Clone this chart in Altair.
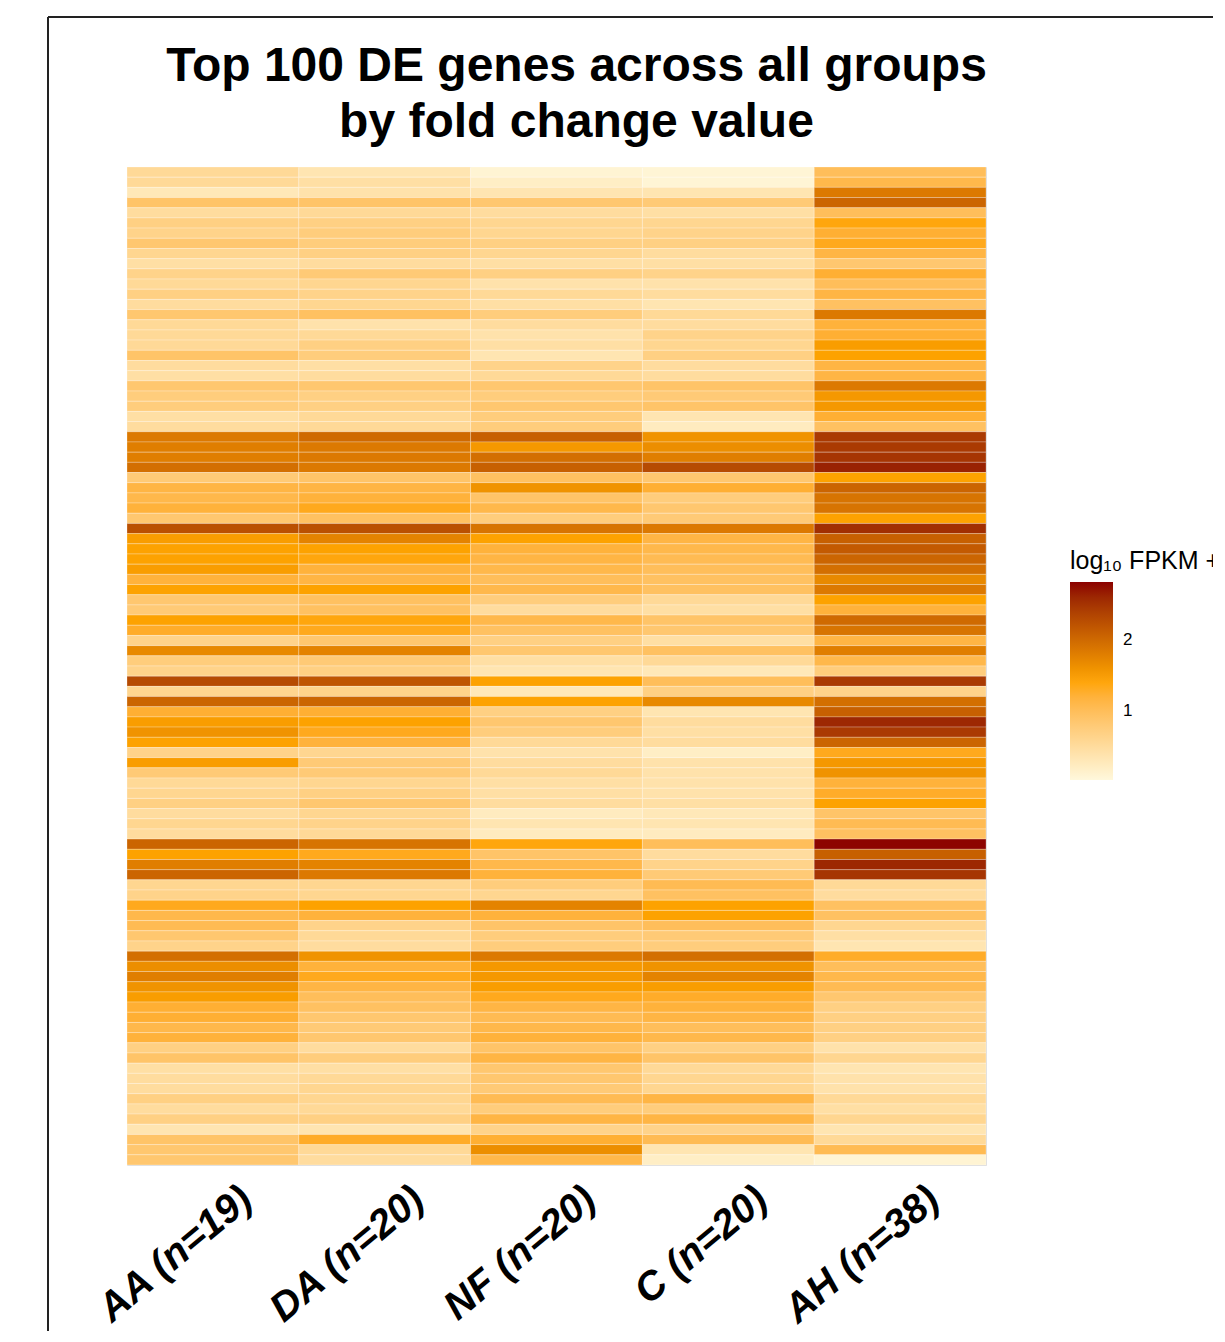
import altair as alt
import pandas as pd

groups = ["AA (n=19)", "DA (n=20)", "NF (n=20)", "C (n=20)", "AH (n=38)"]

AA = [.55, .55, .3, .9, .5, .7, .65, .85, .6, .45,
      .65, .55, .7, .5, .85, .55, .55, .55, .9, .5,
      .45, .85, .75, .75, .45, .5, 1.85, 1.8, 1.8, 1.95,
      .8, 1.15, 1.1, 1.2, .85, 2.25, 1.5, 1.45, 1.45, 1.5,
      1.2, 1.45, .85, .8, 1.45, 1.3, .65, 1.7, .75, .65,
      2.3, .6, 2.05, 1.25, 1.5, 1.6, 1.45, .65, 1.5, .8,
      .55, .6, .7, .5, .6, .5, 2.05, 1.45, 1.8, 2.05,
      .6, .65, 1.35, 1.1, 1.05, .85, .65, 1.95, 1.65, 1.8,
      1.6, 1.5, 1.25, 1.25, 1.1, 1.2, .7, .9, .45, .5,
      .5, .7, .5, .7, .35, .9, .85, .85]
DA = [.35, .45, .4, .9, .55, .7, .75, .75, .7, .5,
      .8, .6, .65, .6, .95, .4, .55, .7, .75, .45,
      .5, .85, .7, .7, .55, .55, 2.0, 1.85, 1.85, 1.85,
      .9, 1.15, 1.2, 1.35, .95, 2.25, 1.75, 1.45, 1.4, 1.2,
      1.15, 1.45, .95, .95, 1.4, 1.35, .85, 1.75, .8, .7,
      2.2, .65, 2.05, 1.25, 1.45, 1.35, 1.2, .6, .8, .8,
      .6, .7, .85, .6, .65, .55, 1.9, 1.35, 1.75, 1.85,
      .6, .6, 1.45, 1.2, .65, .55, .5, 1.6, 1.2, 1.35,
      1.15, 1.0, .95, .85, .8, .85, .5, .75, .45, .55,
      .6, .6, .55, .7, .35, 1.3, .55, .5]
NF = [.1, .2, .35, .85, .5, .6, .6, .7, .6, .45,
      .7, .4, .55, .45, .75, .5, .4, .45, .35, .65,
      .55, .85, .75, .85, .75, .75, 2.1, 1.55, 1.95, 2.1,
      .95, 1.6, .9, 1.1, .75, 1.9, 1.45, 1.2, 1.15, 1.1,
      1.0, 1.1, .75, .5, 1.1, .95, .7, .85, .45, .35,
      1.45, .3, 1.45, .7, .85, .75, .55, .4, .5, .55,
      .45, .45, .5, .25, .35, .25, 1.4, .9, 1.1, 1.2,
      .75, .6, 1.75, 1.2, .9, .75, .75, 1.85, 1.55, 1.55,
      1.5, 1.35, 1.15, 1.05, 1.1, 1.2, .9, 1.15, .85, .85,
      .8, 1.05, .75, 1.15, .65, 1.25, 1.65, 1.1]
C = [.08, .08, .35, .8, .45, .6, .65, .7, .5, .45,
     .65, .4, .5, .35, .55, .5, .65, .6, .7, .5,
     .5, .9, .8, .9, .35, .25, 1.6, 1.65, 1.8, 2.3,
     .85, 1.25, .75, .85, .8, 1.85, 1.15, 1.1, 1.05, 1.0,
     .95, .95, .55, .45, .9, .85, .45, .95, .55, .3,
     1.0, .7, 1.7, .35, .5, .45, .5, .2, .4, .4,
     .4, .4, .45, .3, .35, .25, 1.0, .5, .65, .8,
     1.05, .95, 1.45, 1.45, 1.0, .8, .75, 1.95, 1.6, 1.75,
     1.5, 1.3, 1.2, 1.15, 1.0, 1.1, .7, .9, .55, .6,
     .6, 1.15, .75, 1.15, .65, 1.05, .35, .2]
AH = [1.0, 1.1, 1.85, 2.05, 1.0, 1.4, 1.25, 1.35, 1.15, .85,
      1.25, 1.0, 1.15, .95, 1.85, 1.2, 1.25, 1.5, 1.45, 1.15,
      1.15, 1.85, 1.55, 1.55, 1.25, .95, 2.45, 2.45, 2.5, 2.65,
      1.45, 2.05, 1.9, 1.9, 1.45, 2.55, 2.1, 2.15, 2.05, 1.95,
      1.7, 1.85, 1.45, 1.2, 2.0, 1.9, 1.15, 1.8, 1.1, .75,
      2.45, .65, 1.95, 2.1, 2.6, 2.45, 2.05, 1.35, 1.55, 1.6,
      1.2, 1.3, 1.45, .9, 1.05, .95, 2.8, 2.1, 2.6, 2.5,
      .55, .5, .95, .95, .6, .45, .35, 1.3, 1.0, 1.1,
      1.05, .85, .7, .7, .7, .7, .4, .6, .35, .4,
      .4, .55, .45, .6, .35, .55, 1.05, .1]

records = []
for g, vals in zip(groups, [AA, DA, NF, C, AH]):
    for i, v in enumerate(vals):
        records.append({"group": g, "gene": i, "value": v})
df = pd.DataFrame(records)

FONT = "Liberation Sans"

heat = alt.Chart(df).mark_rect(stroke="white", strokeWidth=0.5, strokeOpacity=0.5).encode(
    x=alt.X("group:N", sort=groups,
            scale=alt.Scale(paddingInner=0, paddingOuter=0),
            axis=alt.Axis(title=None, labelAngle=-40, labelAlign="right",
                          labelBaseline="middle", labelFontSize=40, labelFont=FONT,
                          labelFontWeight="bold", labelFontStyle="italic",
                          labelColor="black", ticks=False, labelLimit=500,
                          domain=False, labelPadding=29, labelOffset=34)),
    y=alt.Y("gene:O", axis=None, scale=alt.Scale(paddingInner=0, paddingOuter=0)),
    color=alt.Color("value:Q",
                    scale=alt.Scale(domain=[0.03, 1.425, 2.82],
                                    range=["#FFF8DC", "#FFA500", "#8B0000"],
                                    interpolate="lab"),
                    legend=alt.Legend(title="log₁₀ FPKM + 1", orient="none",
                                      legendX=943, legendY=382, direction="vertical",
                                      gradientLength=198, gradientThickness=43,
                                      values=[1, 2], labelFontSize=17, labelFont=FONT,
                                      titleFontSize=25, titleFont=FONT,
                                      titleFontWeight="normal", labelColor="black",
                                      titleColor="black", gradientStrokeWidth=0,
                                      labelOffset=10, titlePadding=8, titleLimit=400)),
)

frame = pd.DataFrame({"k": [0]})
top_line = alt.Chart(frame).mark_rule(color="#222222", strokeWidth=2).encode(
    x=alt.value(-79), x2=alt.value(1200), y=alt.value(-150))
left_line = alt.Chart(frame).mark_rule(color="#222222", strokeWidth=2).encode(
    x=alt.value(-79), y=alt.value(-150), y2=alt.value(1300))

chart = alt.layer(heat, top_line, left_line).properties(
    width=859, height=998,
    title=alt.Title(["Top 100 DE genes across all groups", "by fold change value"],
                    fontSize=48, font=FONT, fontWeight="bold", color="black",
                    lineHeight=56, anchor="middle", dx=20, offset=-131, frame="group"),
    autosize=alt.AutoSizeParams(type="none"),
    padding={"left": 119, "top": 159, "right": 227, "bottom": 166},
).configure_view(stroke=None).configure(background="white")

chart.save("out.html", embed_options={"renderer": "svg", "actions": False})
